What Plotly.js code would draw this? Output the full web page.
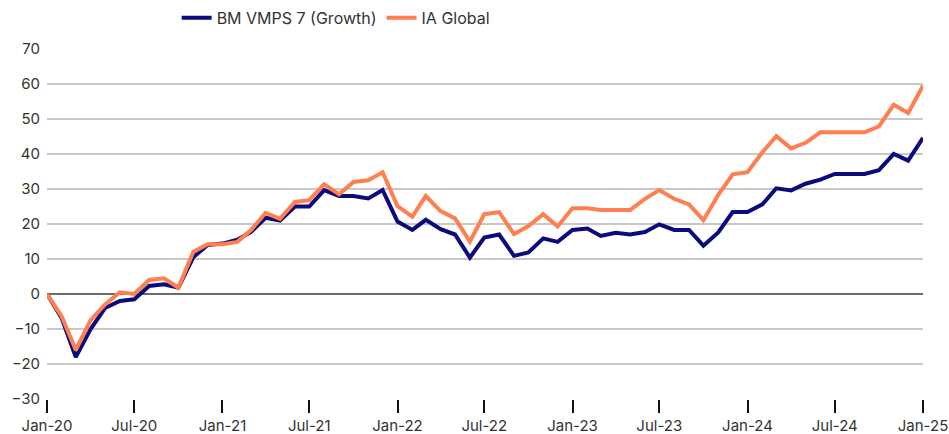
<!DOCTYPE html>
<html>
<head>
<meta charset="utf-8">
<script src="https://cdn.plot.ly/plotly-3.0.1.min.js"></script>
<style>
  html, body { margin: 0; padding: 0; background: #fff; }
  #plot { width: 949px; height: 434px; }
</style>
</head>
<body>
<div id="plot"></div>
<script>
// Monthly dates, Jan-20 to Jan-25
let months = [];
for (let y = 2020; y <= 2025; y++) {
    for (let m = 1; m <= 12; m++) {
        if (y === 2025 && m > 1) break;
        months.push(y + '-' + String(m).padStart(2, '0') + '-01');
    }
}

// Cumulative performance (%)
let bmVmps = [
    0, -7, -18, -10, -4, -2, -1.5, 2.3, 2.8, 1.8, 10.5, 14, 14.4,
    15.5, 17.7, 21.8, 21, 25, 25, 29.7, 28, 28, 27.3, 29.7, 20.7,
    18.3, 21.2, 18.5, 17, 10.4, 16.1, 17, 10.9, 11.9, 15.9, 14.9, 18.3,
    18.7, 16.6, 17.5, 17, 17.7, 19.9, 18.3, 18.3, 13.8, 17.6, 23.4, 23.4,
    25.6, 30.2, 29.6, 31.5, 32.7, 34.3, 34.3, 34.3, 35.4, 40, 38.1, 44.6
];

let iaGlobal = [
    0, -6.5, -16, -7.5, -3, 0.5, 0, 4, 4.5, 1.8, 12, 14.2, 14.2,
    14.9, 18.2, 23.2, 21.5, 26.3, 26.8, 31.3, 28.5, 32, 32.5, 34.8, 25.1,
    22.1, 28, 23.7, 21.6, 15, 22.8, 23.4, 17.1, 19.4, 22.8, 19.3, 24.5,
    24.5, 24, 23.9, 24, 27.2, 29.7, 27.2, 25.6, 21.1, 28.3, 34.2, 34.8,
    40.5, 45.1, 41.6, 43.2, 46.2, 46.2, 46.2, 46.2, 47.9, 54.1, 51.7, 59.5
];

let yTicks = [-30, -20, -10, 0, 10, 20, 30, 40, 50, 60, 70];

let trace1 = {
    x: months,
    y: bmVmps,
    name: 'BM VMPS 7 (Growth)',
    type: 'scatter',
    mode: 'lines',
    line: {color: '#0b0b7e', width: 4},
};

let trace2 = {
    x: months,
    y: iaGlobal,
    name: 'IA Global',
    type: 'scatter',
    mode: 'lines',
    line: {color: '#ff7f50', width: 4},
};

let data = [trace1, trace2];

let layout = {
    width: 949,
    height: 434,
    margin: {l: 47, r: 26, t: 49, b: 35, autoexpand: false},
    paper_bgcolor: '#fff',
    plot_bgcolor: '#fff',
    font: {family: 'Inter, "Noto Sans", sans-serif', size: 15, color: '#333'},
    showlegend: true,
    legend: {
        orientation: 'h',
        x: 0.148,
        xanchor: 'left',
        y: 1.089,
        yanchor: 'middle',
        font: {size: 16, color: '#333'},
        itemwidth: 30,
        tracegroupgap: 0,
    },
    xaxis: {
        type: 'date',
        range: ['2020-01-01', '2025-01-01'],
        tick0: '2020-01-01',
        dtick: 'M6',
        tickformat: '%b-%y',
        ticks: 'outside',
        ticklen: 13,
        tickwidth: 2,
        tickcolor: '#111',
        showgrid: false,
        showline: false,
        zeroline: false,
    },
    yaxis: {
        range: [-30, 70],
        tickvals: yTicks,
        ticks: '',
        showgrid: true,
        gridcolor: '#c8c8c8',
        gridwidth: 1.5,
        zeroline: true,
        zerolinecolor: '#6b6b6b',
        zerolinewidth: 2,
        showline: false,
        ticklabelstandoff: 6,
    },
};

Plotly.newPlot('plot', data, layout, {displayModeBar: false, staticPlot: true});
</script>
</body>
</html>
